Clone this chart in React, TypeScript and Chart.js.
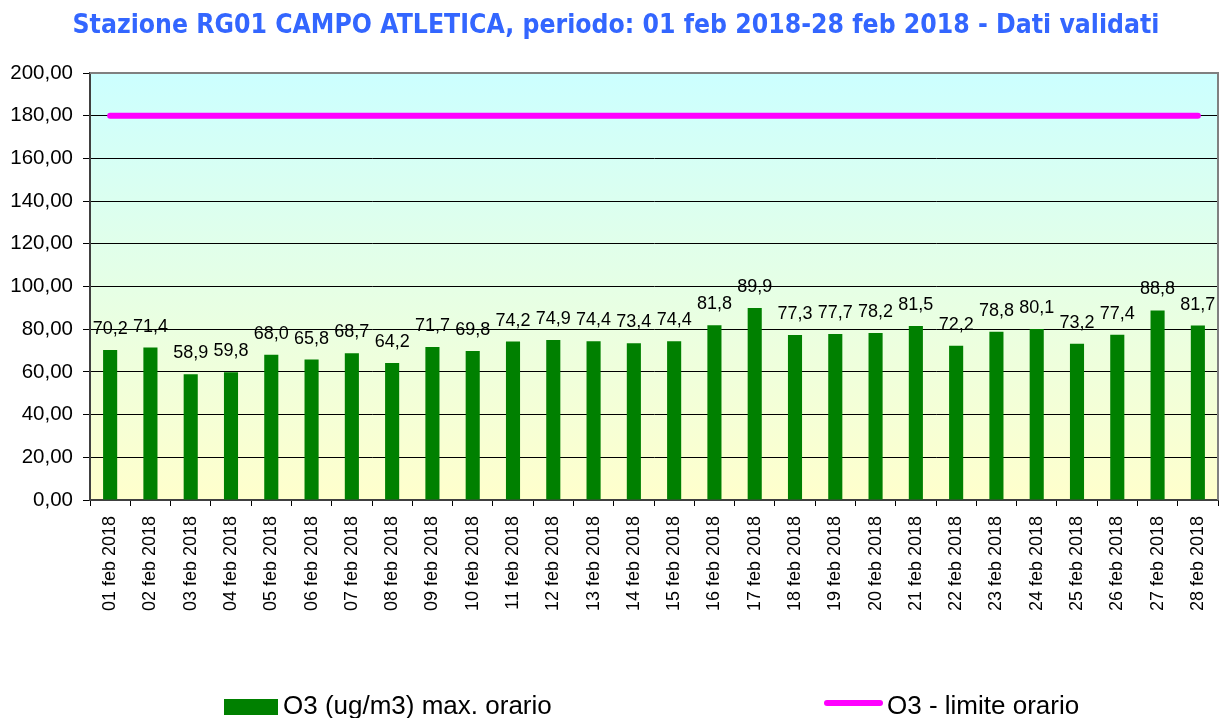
import React, { useEffect, useRef } from "react";
import { Chart, registerables } from "chart.js";

Chart.register(...registerables);

const TITLE = "Stazione RG01 CAMPO ATLETICA, periodo: 01 feb 2018-28 feb 2018 - Dati validati";

const categories = [
  "01 feb 2018", "02 feb 2018", "03 feb 2018", "04 feb 2018", "05 feb 2018", "06 feb 2018", "07 feb 2018",
  "08 feb 2018", "09 feb 2018", "10 feb 2018", "11 feb 2018", "12 feb 2018", "13 feb 2018", "14 feb 2018",
  "15 feb 2018", "16 feb 2018", "17 feb 2018", "18 feb 2018", "19 feb 2018", "20 feb 2018", "21 feb 2018",
  "22 feb 2018", "23 feb 2018", "24 feb 2018", "25 feb 2018", "26 feb 2018", "27 feb 2018", "28 feb 2018",
];

const o3Max = [
  70.2, 71.4, 58.9, 59.8, 68.0, 65.8, 68.7, 64.2, 71.7, 69.8, 74.2, 74.9, 74.4, 73.4,
  74.4, 81.8, 89.9, 77.3, 77.7, 78.2, 81.5, 72.2, 78.8, 80.1, 73.2, 77.4, 88.8, 81.7,
];

const o3Limit = [
  180, 180, 180, 180, 180, 180, 180, 180, 180, 180, 180, 180, 180, 180,
  180, 180, 180, 180, 180, 180, 180, 180, 180, 180, 180, 180, 180, 180,
];

const seriesNames = ["O3 (ug/m3) max. orario", "O3 - limite orario"];

const yMin = 0;
const yMax = 200;
const yStep = 20;

const BAR_COLOR = "#008000";
const LINE_COLOR = "#FF00FF";
const TITLE_COLOR = "#3366FF";
const FONT = "'Liberation Sans', Arial, sans-serif";

const fmt1 = (v: number) => v.toFixed(1).replace(".", ",");
const fmt2 = (v: number) => v.toFixed(2).replace(".", ",");

const titlePlugin = {
  id: "customTitle",
  afterDraw(chart: any) {
    const { ctx } = chart;
    ctx.save();
    ctx.translate(616, 32.5);
    ctx.scale(1, 1.1);
    ctx.font = `bold 23.7px 'DejaVu Sans', Verdana, sans-serif`;
    ctx.fillStyle = TITLE_COLOR;
    ctx.textAlign = "center";
    ctx.textBaseline = "alphabetic";
    ctx.fillText(TITLE, 0, 0);
    ctx.restore();
  },
};

const backgroundPlugin = {
  id: "bgGradient",
  beforeDraw(chart: any) {
    const { ctx, chartArea } = chart;
    if (!chartArea) return;
    const g = ctx.createLinearGradient(0, chartArea.top, 0, chartArea.bottom);
    g.addColorStop(0, "#CCFFFF");
    g.addColorStop(1, "#FFFFCC");
    ctx.save();
    ctx.fillStyle = g;
    ctx.fillRect(chartArea.left, chartArea.top, chartArea.right - chartArea.left, chartArea.bottom - chartArea.top);
    ctx.restore();
  },
  beforeDatasetsDraw(chart: any) {
    const { ctx, chartArea } = chart;
    ctx.save();
    ctx.strokeStyle = "#808080";
    ctx.lineWidth = 2;
    ctx.beginPath();
    ctx.moveTo(chartArea.left, chartArea.top);
    ctx.lineTo(chartArea.right, chartArea.top);
    ctx.lineTo(chartArea.right, chartArea.bottom);
    ctx.stroke();
    ctx.restore();
  },
};

const valueLabelPlugin = {
  id: "valueLabels",
  afterDatasetsDraw(chart: any) {
    const { ctx } = chart;
    const meta = chart.getDatasetMeta(0);
    const data = chart.data.datasets[0].data as number[];
    ctx.save();
    ctx.font = `18px ${FONT}`;
    ctx.fillStyle = "#000";
    ctx.textAlign = "center";
    ctx.textBaseline = "alphabetic";
    meta.data.forEach((el: any, i: number) => {
      ctx.fillText(fmt1(data[i]), el.x, el.y - 16);
    });
    ctx.restore();
  },
};

const legendPlugin = {
  id: "customLegend",
  afterDraw(chart: any) {
    const { ctx } = chart;
    ctx.save();
    ctx.font = `26px ${FONT}`;
    ctx.textBaseline = "alphabetic";
    ctx.textAlign = "left";
    ctx.fillStyle = BAR_COLOR;
    ctx.fillRect(224, 699, 54, 16);
    ctx.fillStyle = "#000";
    ctx.fillText(seriesNames[0], 283, 714);
    ctx.strokeStyle = LINE_COLOR;
    ctx.lineWidth = 6;
    ctx.lineCap = "round";
    ctx.beginPath();
    ctx.moveTo(827, 703);
    ctx.lineTo(880, 703);
    ctx.stroke();
    ctx.fillText(seriesNames[1], 887, 714);
    ctx.restore();
  },
};

export default function App() {
  const ref = useRef<HTMLCanvasElement | null>(null);

  useEffect(() => {
    if (!ref.current) return;
    const chart = new Chart(ref.current, {
      type: "bar",
      data: {
        labels: categories,
        datasets: [
          {
            type: "bar",
            label: seriesNames[0],
            data: o3Max,
            backgroundColor: BAR_COLOR,
            borderWidth: 0,
            categoryPercentage: 1,
            barPercentage: 0.35,
            order: 2,
          },
          {
            type: "line",
            label: seriesNames[1],
            data: o3Limit,
            borderColor: LINE_COLOR,
            backgroundColor: LINE_COLOR,
            borderWidth: 6,
            borderCapStyle: "round",
            pointRadius: 0,
            fill: false,
            order: 1,
          } as any,
        ],
      },
      options: {
        responsive: false,
        animation: false,
        layout: { padding: { left: 0, right: 8, top: 73, bottom: 0 } },
        plugins: {
          legend: { display: false },
          tooltip: { enabled: false },
          title: { display: false },
        },
        scales: {
          x: {
            offset: true,
            grid: {
              offset: true,
              drawOnChartArea: false,
              drawTicks: true,
              tickLength: 6,
              color: "#000",
            },
            border: { display: true, color: "#404040", width: 2 },
            ticks: {
              color: "#000",
              font: { family: FONT, size: 18 },
              minRotation: 90,
              maxRotation: 90,
              padding: 10,
              autoSkip: false,
            },
            afterFit(scale: any) {
              scale.height = 218;
              scale.paddingLeft = 0;
              scale.paddingRight = 0;
            },
          },
          y: {
            min: yMin,
            max: yMax,
            grid: {
              color: "#000",
              lineWidth: 1,
              drawTicks: true,
              tickLength: 7,
            },
            border: { display: true, color: "#404040", width: 2 },
            ticks: {
              stepSize: yStep,
              color: "#000",
              font: { family: FONT, size: 20.5 },
              padding: 10,
              callback: (v: any) => fmt2(Number(v)),
            },
            afterFit(scale: any) {
              scale.width = 90;
            },
          },
        },
      },
      plugins: [backgroundPlugin, valueLabelPlugin, legendPlugin, titlePlugin],
    });
    return () => chart.destroy();
  }, []);

  return (
    <div style={{ position: "absolute", left: 0, top: 0, width: 1226, height: 718, background: "#fff" }}>
      <canvas ref={ref} width={1226} height={718} style={{ display: "block" }} />
    </div>
  );
}
